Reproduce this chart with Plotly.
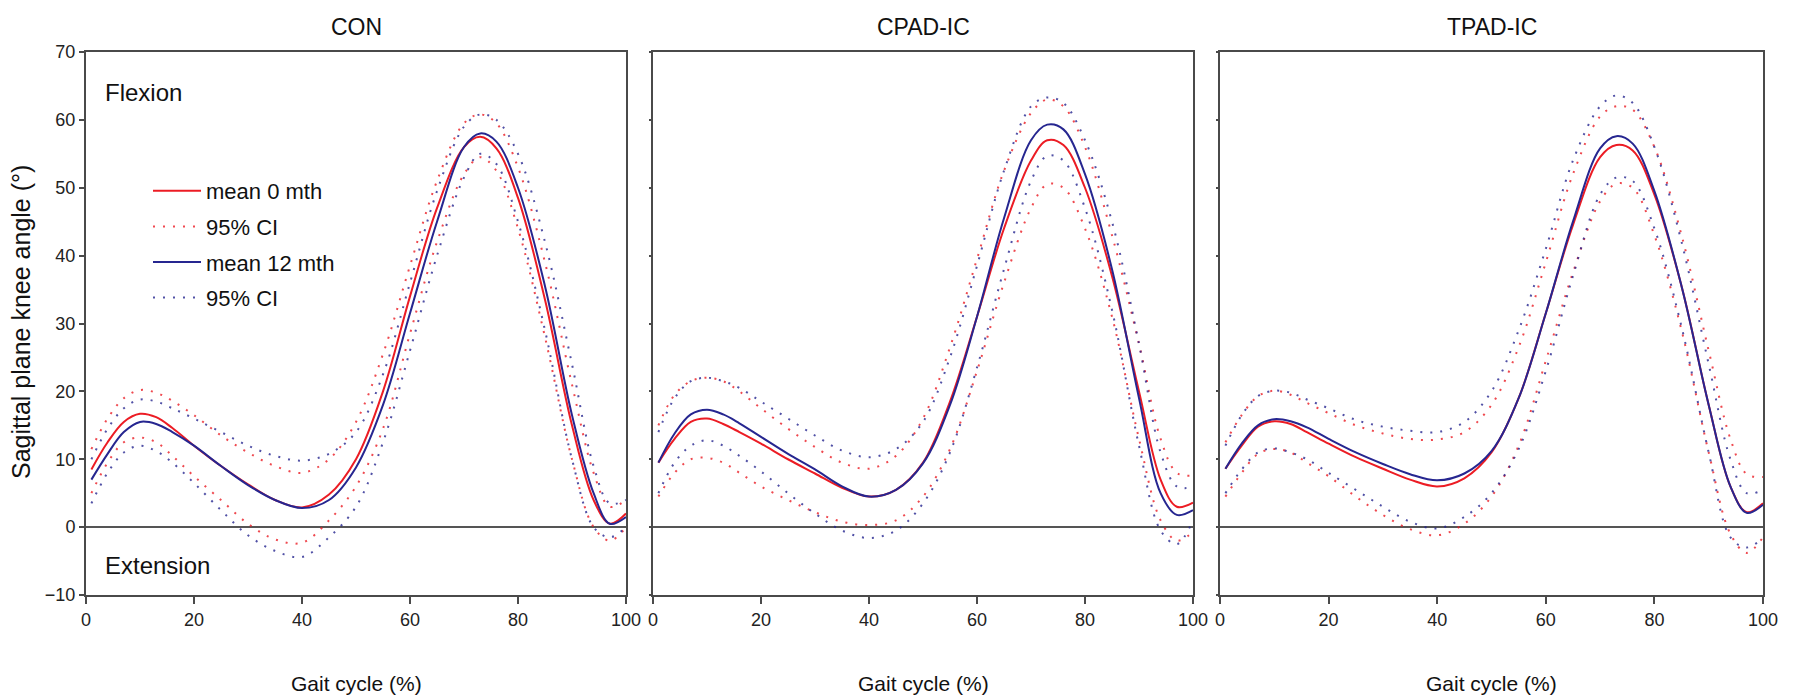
import plotly.graph_objects as go

# ---------------- data ----------------
X_PCT = [1, 4, 7, 10, 13, 16, 20, 25, 30, 35, 40, 45, 50, 55, 60, 65, 70, 73, 76, 80, 85, 90, 94, 97, 100]

PANEL_TITLES = ["CON", "CPAD-IC", "TPAD-IC"]
LEGEND_NAMES = ["mean 0 mth", "95% CI", "mean 12 mth", "95% CI"]
Y_TICKS = [-10, 0, 10, 20, 30, 40, 50, 60, 70]
X_TICKS = [0, 20, 40, 60, 80, 100]

CON_MEAN_0 = [8.5, 12.5, 15.5, 16.7, 16.2, 14.6, 12.0, 9.0, 6.3, 4.0, 2.9, 4.8, 10.0, 20.0, 34.0, 47.0, 56.0, 57.5, 55.8, 48.5, 33.5, 15.0, 4.0, 0.5, 2.0]
CON_MEAN_12 = [7.0, 10.8, 14.0, 15.5, 15.2, 14.0, 12.0, 9.0, 6.2, 4.0, 2.8, 4.0, 8.8, 18.0, 31.5, 45.0, 56.0, 58.0, 56.8, 50.0, 35.5, 16.5, 5.0, 0.5, 1.5]
CON_CI0_UP = [11.5, 16.0, 19.0, 20.2, 19.8, 18.6, 16.5, 13.5, 11.0, 9.0, 8.0, 10.0, 15.5, 25.5, 38.5, 51.0, 59.5, 60.8, 59.5, 53.0, 39.0, 21.0, 8.0, 3.0, 4.0]
CON_CI0_LO = [5.0, 9.5, 12.5, 13.2, 12.5, 10.5, 7.5, 4.0, 0.5, -1.8, -2.3, 1.0, 6.0, 14.5, 28.5, 42.0, 52.0, 54.5, 52.5, 44.0, 28.0, 10.0, 0.0, -2.0, 0.0]
CON_CI12_UP = [10.0, 14.5, 17.5, 18.8, 18.5, 17.5, 16.0, 14.0, 12.0, 10.5, 9.8, 10.8, 14.0, 22.5, 36.0, 49.5, 59.0, 60.8, 60.0, 55.0, 42.0, 24.0, 9.0, 3.5, 4.0]
CON_CI12_LO = [3.5, 8.0, 11.0, 12.0, 11.2, 9.5, 6.5, 2.5, -1.2, -3.5, -4.4, -1.5, 3.0, 12.5, 26.0, 40.0, 51.5, 55.0, 53.5, 45.0, 29.0, 10.0, 0.0, -1.5, 0.0]

CPAD_MEAN_0 = [9.5, 13.0, 15.5, 16.0, 15.2, 14.0, 12.3, 10.0, 7.9, 5.8, 4.5, 5.5, 9.5, 18.5, 31.0, 44.0, 54.0, 57.0, 56.3, 50.0, 37.0, 20.0, 7.0, 3.0, 3.6]
CPAD_MEAN_12 = [9.5, 13.8, 16.6, 17.3, 16.6, 15.3, 13.3, 10.8, 8.5, 6.0, 4.5, 5.5, 9.4, 18.0, 31.0, 45.5, 57.0, 59.3, 58.6, 52.0, 38.0, 19.0, 5.0, 1.8, 2.5]
CPAD_CI0_UP = [15.0, 19.5, 21.5, 22.0, 21.5, 20.0, 17.5, 14.5, 11.8, 9.5, 8.6, 10.5, 16.0, 26.5, 39.5, 52.5, 61.0, 63.0, 62.0, 56.0, 43.0, 27.0, 13.0, 8.0, 7.6]
CPAD_CI0_LO = [4.5, 8.0, 10.0, 10.2, 9.5, 8.0, 6.0, 4.0, 2.2, 0.8, 0.3, 1.0, 4.5, 11.5, 23.0, 36.0, 47.0, 50.5, 50.0, 44.0, 31.0, 13.0, 1.0, -2.0, -0.7]
CPAD_CI12_UP = [14.0, 19.0, 21.5, 22.0, 21.5, 20.5, 18.5, 16.0, 13.5, 11.3, 10.3, 11.5, 15.5, 25.0, 38.5, 52.5, 62.0, 63.3, 62.5, 57.0, 45.0, 27.0, 11.0, 6.0, 5.9]
CPAD_CI12_LO = [5.0, 9.5, 12.0, 12.8, 12.0, 10.5, 8.2, 5.0, 2.0, -0.5, -1.6, -0.5, 3.5, 11.0, 23.5, 38.0, 51.0, 54.7, 54.0, 47.0, 32.0, 12.0, -0.5, -2.5, 1.0]

TPAD_MEAN_0 = [8.6, 12.0, 14.8, 15.6, 15.2, 14.0, 12.3, 10.3, 8.6, 7.0, 6.0, 7.2, 11.0, 19.0, 31.5, 44.5, 54.5, 56.3, 55.5, 49.0, 35.5, 18.0, 6.0, 2.2, 3.5]
TPAD_MEAN_12 = [8.6, 12.3, 15.0, 15.9, 15.6, 14.7, 13.0, 11.0, 9.3, 7.8, 6.9, 7.9, 11.2, 19.0, 31.5, 45.0, 55.8, 57.6, 56.5, 49.5, 35.5, 18.0, 6.0, 2.1, 3.3]
TPAD_CI0_UP = [12.5, 16.5, 19.3, 20.1, 19.5, 18.3, 16.8, 15.0, 13.8, 13.0, 12.9, 14.0, 18.0, 26.5, 39.0, 52.0, 60.5, 62.0, 61.5, 56.0, 43.0, 26.0, 13.0, 7.8, 7.4]
TPAD_CI0_LO = [4.5, 8.0, 10.8, 11.5, 11.0, 9.5, 7.5, 4.5, 1.8, -0.3, -1.2, 0.5, 4.5, 12.0, 24.5, 37.5, 48.0, 50.6, 50.0, 43.0, 29.0, 11.0, -1.0, -3.8, -1.5]
TPAD_CI12_UP = [12.0, 16.5, 19.3, 20.1, 19.8, 18.8, 17.5, 15.8, 14.8, 14.2, 14.0, 15.5, 20.0, 29.0, 41.0, 54.0, 62.0, 63.6, 62.5, 56.0, 42.0, 24.0, 10.0, 5.0, 5.5]
TPAD_CI12_LO = [5.0, 8.5, 11.0, 11.6, 11.0, 10.0, 8.0, 5.5, 3.0, 0.8, -0.2, 1.5, 5.0, 11.5, 23.0, 37.0, 49.0, 51.5, 51.0, 44.0, 29.5, 11.0, -1.5, -3.0, -1.6]

# ---------------- style ----------------
RED = "#ec1c24"
BLUE = "#262690"
AXIS_COL = "#4a4a4a"
FONT = "Liberation Sans, Arial, sans-serif"
W, H = 1794, 700

# plot area in pixels
L, R, T, B = 86, 1763, 52, 595
PW, PH = R - L, B - T


def px_x(p):
    return (p - L) / PW


def px_y(p):
    return (B - p) / PH


panels = [
    (CON_MEAN_0, CON_CI0_UP, CON_CI0_LO, CON_MEAN_12, CON_CI12_UP, CON_CI12_LO),
    (CPAD_MEAN_0, CPAD_CI0_UP, CPAD_CI0_LO, CPAD_MEAN_12, CPAD_CI12_UP, CPAD_CI12_LO),
    (TPAD_MEAN_0, TPAD_CI0_UP, TPAD_CI0_LO, TPAD_MEAN_12, TPAD_CI12_UP, TPAD_CI12_LO),
]

x_px = [(86, 626), (653, 1193), (1220, 1763)]

fig = go.Figure()

DOT = "2px,8px"
for i, (m0, u0, l0, m12, u12, l12) in enumerate(panels):
    xa = "x" if i == 0 else f"x{i+1}"
    ya = "y" if i == 0 else f"y{i+1}"
    first = i == 0
    specs = [
        (m0, RED, None, LEGEND_NAMES[0], "g1", first),
        (u0, RED, DOT, LEGEND_NAMES[1], "g2", first),
        (l0, RED, DOT, LEGEND_NAMES[1], "g2", False),
        (m12, BLUE, None, LEGEND_NAMES[2], "g3", first),
        (u12, BLUE, DOT, LEGEND_NAMES[3], "g4", first),
        (l12, BLUE, DOT, LEGEND_NAMES[3], "g4", False),
    ]
    for vals, col, dash, name, grp, show in specs:
        line = dict(color=col, width=2, shape="spline", smoothing=1.0)
        if dash:
            line["dash"] = dash
        fig.add_trace(go.Scatter(
            x=X_PCT, y=vals, mode="lines", name=name, legendgroup=grp,
            showlegend=show, line=line, xaxis=xa, yaxis=ya,
            opacity=0.8 if dash else 1.0,
        ))

layout = dict(
    width=W, height=H,
    margin=dict(l=L, r=W - R, t=T, b=H - B, autoexpand=False),
    paper_bgcolor="white", plot_bgcolor="white",
    showlegend=True,
    legend=dict(
        x=px_x(148), y=px_y(170), xanchor="left", yanchor="top",
        font=dict(family=FONT, size=22, color="#111"),
        bgcolor="rgba(0,0,0,0)", tracegroupgap=4,
        itemwidth=48,
    ),
    font=dict(family=FONT, color="#222"),
)

annotations = []
for i in range(3):
    sfx = "" if i == 0 else str(i + 1)
    x0, x1 = x_px[i]
    layout["xaxis" + sfx] = dict(
        domain=[px_x(x0), px_x(x1)], range=[0, 100], anchor="y" + sfx,
        tickvals=X_TICKS, ticks="outside", ticklen=7, tickwidth=2, tickcolor=AXIS_COL,
        showline=True, mirror=True, linecolor=AXIS_COL, linewidth=2,
        showgrid=False, zeroline=False, automargin=False,
        tickfont=dict(family=FONT, size=18, color="#222"),
    )
    layout["yaxis" + sfx] = dict(
        domain=[0, 1], range=[-10, 70], anchor="x" + sfx,
        tickvals=Y_TICKS, ticks="outside", ticklen=5 if i == 0 else 2, tickwidth=2, tickcolor=AXIS_COL,
        showticklabels=(i == 0), automargin=False,
        showline=True, mirror=True, linecolor=AXIS_COL, linewidth=2,
        showgrid=False, zeroline=True, zerolinecolor="#555", zerolinewidth=2,
        tickfont=dict(family=FONT, size=18, color="#222"),
    )
    cx = px_x((x0 + x1) / 2)
    annotations.append(dict(text=PANEL_TITLES[i], x=cx, y=px_y(27), xref="paper", yref="paper",
                            showarrow=False, xanchor="center", yanchor="middle",
                            font=dict(family=FONT, size=23, color="#111")))
    annotations.append(dict(text="Gait cycle (%)", x=cx, y=px_y(683), xref="paper", yref="paper",
                            showarrow=False, xanchor="center", yanchor="middle",
                            font=dict(family=FONT, size=21, color="#111")))

annotations.append(dict(text="Flexion", x=px_x(103), y=px_y(92), xref="paper", yref="paper",
                        showarrow=False, xanchor="left", yanchor="middle",
                        font=dict(family=FONT, size=24, color="#111")))
annotations.append(dict(text="Extension", x=px_x(103), y=px_y(565), xref="paper", yref="paper",
                        showarrow=False, xanchor="left", yanchor="middle",
                        font=dict(family=FONT, size=24, color="#111")))
annotations.append(dict(text="Sagittal plane knee angle (°)", x=px_x(21), y=px_y(322), xref="paper", yref="paper",
                        showarrow=False, xanchor="center", yanchor="middle", textangle=-90,
                        font=dict(family=FONT, size=25, color="#111")))

layout["annotations"] = annotations
fig.update_layout(**layout)

fig.write_html("out.html")
